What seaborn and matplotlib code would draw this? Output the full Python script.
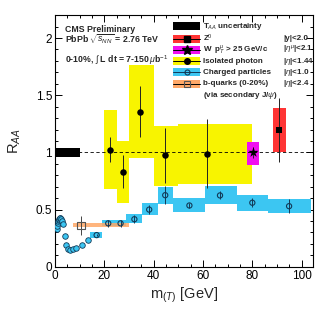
import matplotlib
matplotlib.use("Agg")
import matplotlib.pyplot as plt
from matplotlib.patches import Rectangle
from matplotlib.ticker import MultipleLocator
import seaborn as sns
import pandas as pd

# isolated photon
photon_x = [22.3, 27.4, 34.5, 44.5, 61.8]
photon_y = [1.025, 0.833, 1.357, 0.975, 0.99]
photon_stat = [0.11, 0.14, 0.22, 0.24, 0.30]
photon_bin_lo = [20.0, 25.0, 30.0, 40.0, 50.0]
photon_bin_hi = [25.0, 30.0, 40.0, 50.0, 80.0]
photon_sys_lo = [0.676, 0.56, 0.95, 0.705, 0.728]
photon_sys_hi = [1.375, 1.098, 1.768, 1.235, 1.246]

# W and Z
w_x, w_y, w_stat = [80.4], [1.0], [0.05]
w_bin = [77.7, 82.8]
w_sys = [0.89, 1.09]
z_x, z_y, z_stat = [91.0], [1.194], [0.28]
z_bin = [88.5, 93.6]
z_sys = [1.005, 1.39]

# T_AA uncertainty
taa_bin = [0.0, 10.0]
taa_sys = [0.96, 1.04]

# b-quarks
b_x, b_y, b_stat = [10.5], [0.36], [0.085]
b_bin = [7.4, 30.0]
b_sys = [0.344, 0.385]

# charged particles, high pT (with syst. boxes)
ch_x = [16.9, 21.6, 26.6, 32.2, 38.2, 44.7, 54.5, 66.9, 80.0, 94.9]
ch_y = [0.277, 0.38, 0.38, 0.416, 0.50, 0.626, 0.536, 0.624, 0.56, 0.53]
ch_stat = [0.01, 0.03, 0.03, 0.035, 0.04, 0.08, 0.02, 0.035, 0.04, 0.06]
ch_bin_lo = [14.4, 19.2, 24.0, 28.8, 35.2, 41.6, 48.0, 60.8, 73.6, 86.4]
ch_bin_hi = [19.2, 24.0, 28.8, 35.2, 41.6, 48.0, 60.8, 73.6, 86.4, 103.6]
ch_sys_lo = [0.248, 0.355, 0.355, 0.38, 0.45, 0.55, 0.48, 0.55, 0.49, 0.47]
ch_sys_hi = [0.306, 0.41, 0.41, 0.46, 0.56, 0.70, 0.60, 0.705, 0.626, 0.59]

# charged particles, low pT
lo_x = [0.8, 1.0, 1.2, 1.4, 1.6, 1.8, 2.0, 2.2, 2.4, 2.8, 3.2, 3.9, 4.5,
        5.3, 6.2, 7.2, 8.5, 10.9, 13.2]
lo_y = [0.33, 0.36, 0.38, 0.40, 0.41, 0.42, 0.43, 0.43, 0.42, 0.40, 0.37,
        0.27, 0.19, 0.16, 0.15, 0.155, 0.165, 0.19, 0.23]

legend_labels = ["T$_{AA}$ uncertainty", "Z$^{0}$",
                 r"W  p$_{T}^{\mu}$ > 25 GeV/c", "Isolated photon",
                 "Charged particles", "b-quarks (0-20%)"]
legend_cuts = ["", "|y|<2.0", r"|$\eta^{\mu}$|<2.1", r"|$\eta$|<1.44",
               r"|$\eta$|<1.0", r"|$\eta$|<2.4"]

YELLOW = "#f8f400"
CYAN = "#3cc6f2"
RED = "#ff3434"
MAGENTA = "#f010f0"
ORANGE = "#ffa868"
DARKBLUE = "#123a58"

sns.set_theme(style="ticks")
plt.rcParams["font.family"] = ["Liberation Sans", "DejaVu Sans"]
plt.rcParams["mathtext.fontset"] = "custom"
plt.rcParams["mathtext.rm"] = "Liberation Sans"
plt.rcParams["mathtext.it"] = "Liberation Sans:italic"
plt.rcParams["mathtext.bf"] = "Liberation Sans:bold"

fig = plt.figure(figsize=(3.27, 3.15), dpi=100)
ax = fig.add_axes([0.168, 0.153, 0.790, 0.799])


def boxes(lo, hi, ylo, yhi, color, z, alpha=1.0):
    ax.bar(lo, [b - a for a, b in zip(ylo, yhi)], width=[b - a for a, b in zip(lo, hi)],
           bottom=ylo, align="edge", color=color, linewidth=0, zorder=z, alpha=alpha)


boxes(photon_bin_lo, photon_bin_hi, photon_sys_lo, photon_sys_hi, YELLOW, 1)
boxes([w_bin[0]], [w_bin[1]], [w_sys[0]], [w_sys[1]], MAGENTA, 1)
boxes([z_bin[0]], [z_bin[1]], [z_sys[0]], [z_sys[1]], RED, 1)
boxes([taa_bin[0]], [taa_bin[1]], [taa_sys[0]], [taa_sys[1]], "black", 3)
boxes(ch_bin_lo, ch_bin_hi, ch_sys_lo, ch_sys_hi, CYAN, 2)
boxes([b_bin[0]], [b_bin[1]], [b_sys[0]], [b_sys[1]], ORANGE, 2.5, alpha=0.85)

ax.axhline(1.0, color="black", lw=0.6, ls=(0, (4, 3)), zorder=1.5)

ax.errorbar(photon_x, photon_y, yerr=photon_stat, fmt="none", ecolor="#222222", elinewidth=0.7, zorder=4)
ax.errorbar(w_x, w_y, yerr=w_stat, fmt="none", ecolor="#222222", elinewidth=0.7, zorder=4)
ax.errorbar(z_x, z_y, yerr=z_stat, fmt="none", ecolor="#222222", elinewidth=0.7, zorder=4)
ax.errorbar(b_x, b_y, yerr=b_stat, fmt="none", ecolor="#444444", elinewidth=0.7, zorder=4)
ax.errorbar(ch_x, ch_y, yerr=ch_stat, fmt="none", ecolor=DARKBLUE, elinewidth=0.7, zorder=4)

pts = pd.DataFrame({"x": photon_x, "y": photon_y})
sns.scatterplot(data=pts, x="x", y="y", ax=ax, marker="o", s=22, color="black", linewidth=0, zorder=5)
sns.scatterplot(x=w_x, y=w_y, ax=ax, marker="*", s=60, color="black", linewidth=0, zorder=5)
sns.scatterplot(x=z_x, y=z_y, ax=ax, marker="s", s=20, color="black", linewidth=0, zorder=5)
sns.scatterplot(x=b_x, y=b_y, ax=ax, marker="s", s=30, facecolor="none", edgecolor="#555555",
                linewidth=0.8, zorder=5)
sns.scatterplot(x=ch_x, y=ch_y, ax=ax, marker="o", s=14, facecolor="none", edgecolor=DARKBLUE,
                linewidth=0.8, zorder=5)
sns.scatterplot(x=lo_x, y=lo_y, ax=ax, marker="o", s=16, facecolor=CYAN, edgecolor=DARKBLUE,
                linewidth=0.6, zorder=5)

ax.set_xlim(0, 104.7)
ax.set_ylim(0, 2.2)
ax.xaxis.set_major_locator(MultipleLocator(20))
ax.xaxis.set_minor_locator(MultipleLocator(5))
ax.yaxis.set_minor_locator(MultipleLocator(0.1))
ax.set_yticks([0, 0.5, 1, 1.5, 2])
ax.set_yticklabels(["0", "0.5", "1", "1.5", "2"])
ax.tick_params(which="both", direction="in", top=True, right=True, width=0.7,
               labelsize=8.5, pad=2, colors="black")
ax.tick_params(which="major", length=5)
ax.tick_params(which="minor", length=2.5)
for s in ax.spines.values():
    s.set_linewidth(0.8)
    s.set_color("black")

ax.set_xlabel("m$_{(T)}$ [GeV]", fontsize=10.5)
ax.set_ylabel("R$_{AA}$", fontsize=10.5)
ax.xaxis.set_label_coords(0.5, -0.075)
ax.yaxis.set_label_coords(-0.122, 0.5)

# header text
ax.text(0.039, 0.943, "CMS Preliminary", transform=ax.transAxes, fontsize=6.3,
        fontweight="bold", va="center")
ax.text(0.039, 0.904, r"PbPb $\sqrt{s_{NN}}$ = 2.76 TeV", transform=ax.transAxes,
        fontsize=6.3, fontweight="bold", va="center")
ax.text(0.039, 0.822, r"0-10%, $\int$ L dt = 7-150$\,\mu$b$^{-1}$", transform=ax.transAxes,
        fontsize=6.3, fontweight="bold", va="center")

# legend, drawn by hand
row_px = [26.0, 38.5, 50.0, 61.2, 72.2, 83.5]
handle_style = [("black", None), (RED, "s"), (MAGENTA, "*"), (YELLOW, "o"),
                (CYAN, "o_open"), (ORANGE, "s_open")]
hx0, hw, hh = 0.458, 0.103, 0.031
for ypx, label, cut, (fc, mk) in zip(row_px, legend_labels, legend_cuts, handle_style):
    yc = (266.7 - ypx) / 251.7
    ax.add_patch(Rectangle((hx0, yc - hh / 2), hw, hh, transform=ax.transAxes,
                           facecolor=fc, linewidth=0, zorder=6))
    if mk is not None:
        lc = DARKBLUE if mk == "o_open" else "black"
        ax.plot([hx0, hx0 + hw], [yc, yc], transform=ax.transAxes, color=lc, lw=0.7, zorder=7)
        if mk == "o_open":
            ax.plot([hx0 + hw / 2], [yc], transform=ax.transAxes, marker="o", ms=3.6,
                    mfc="none", mec=DARKBLUE, mew=0.8, zorder=8)
        elif mk == "s_open":
            ax.plot([hx0 + hw / 2], [yc], transform=ax.transAxes, marker="s", ms=4.8,
                    mfc="none", mec="#555555", mew=0.8, zorder=8)
        elif mk == "*":
            ax.plot([hx0 + hw / 2], [yc], transform=ax.transAxes, marker="*", ms=7,
                    color="black", zorder=8)
        else:
            ax.plot([hx0 + hw / 2], [yc], transform=ax.transAxes, marker=mk, ms=4,
                    color="black", zorder=8)
    ax.text(0.574, yc, label, transform=ax.transAxes, fontsize=5.8, fontweight="bold",
            va="center", zorder=8)
    if cut:
        ax.text(0.884, yc, cut, transform=ax.transAxes, fontsize=5.8, fontweight="bold",
                va="center", zorder=8)
ax.text(0.574, (266.7 - 95.3) / 251.7, r"(via secondary J/$\psi$)", transform=ax.transAxes,
        fontsize=5.8, fontweight="bold", va="center", zorder=8)

fig.savefig("out.png", dpi=100)
